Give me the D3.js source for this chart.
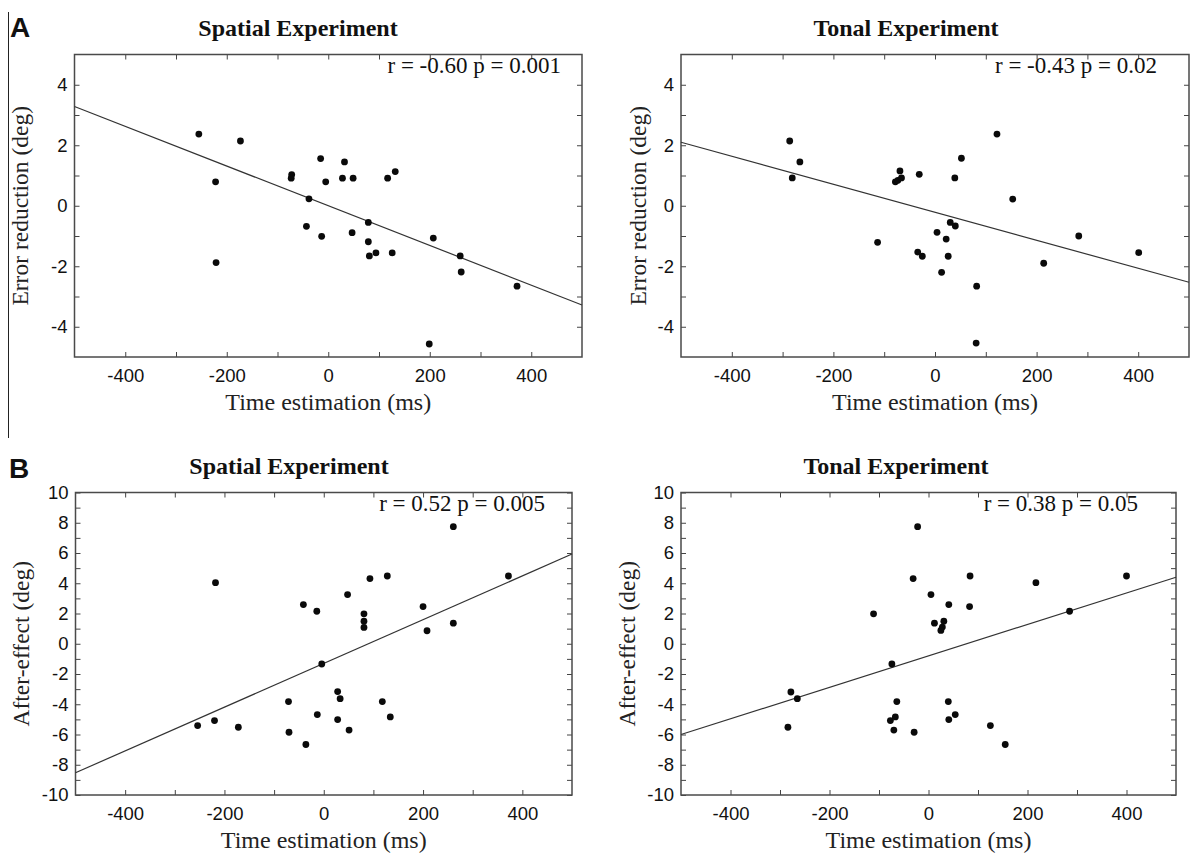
<!DOCTYPE html>
<html><head><meta charset="utf-8">
<script src="https://cdn.jsdelivr.net/npm/d3@7"></script>
<style>body{margin:0;background:#fff}svg{display:block}</style>
</head><body><svg id="c" width="1192" height="853"></svg>
<script>
// ---------- data ----------
const xDomain = [-500, 500];
const xLabelTicks = [-400, -200, 0, 200, 400];
const errDomain = [-5, 5];
const errLabelTicks = [-4, -2, 0, 2, 4];
const afterDomain = [-10, 10];
const afterLabelTicks = [-10, -8, -6, -4, -2, 0, 2, 4, 6, 8, 10];
const fitX = [-500, 500];

// A: Spatial experiment, error reduction
const spatialErrX = [-255, -173, -222, -221, -72, -73, -15, 32, -5, 28, 49, 117, 132, -38, -43, -13, 47, 79, 79, 81, 94, 126, 207, 260, 262, 372, 199];
const spatialErrY = [2.37, 2.14, 0.79, -1.88, 1.03, 0.91, 1.56, 1.45, 0.79, 0.91, 0.91, 0.91, 1.13, 0.23, -0.68, -1.01, -0.89, -0.55, -1.19, -1.66, -1.56, -1.56, -1.07, -1.66, -2.19, -2.66, -4.57];
const spatialErrFit = [3.28, -3.28];

// A: Tonal experiment, error reduction
const tonalErrX = [-286, -281, -266, -113, -78, -73, -69, -66, -31, -34, -25, 4, 13, 22, 26, 30, 40, 39, 52, 82, 81, 122, 153, 214, 283, 401];
const tonalErrY = [2.14, 0.92, 1.45, -1.21, 0.79, 0.84, 1.15, 0.92, 1.04, -1.53, -1.67, -0.88, -2.2, -1.10, -1.67, -0.55, -0.67, 0.92, 1.57, -2.66, -4.54, 2.37, 0.22, -1.90, -1.0, -1.55];
const tonalErrFit = [2.10, -2.53];

// B: Spatial experiment, after-effect
const spatialAftX = [-254, -220, -172, -218, -71, -70, -36, -41, -14, -13, -4, 28, 33, 28, 48, 51, 81, 81, 81, 93, 128, 118, 134, 200, 208, 261, 261, 372];
const spatialAftY = [-5.41, -5.08, -5.52, 4.04, -3.82, -5.85, -6.66, 2.59, 2.15, -4.68, -1.34, -3.16, -3.63, -5.01, 3.25, -5.71, 1.98, 1.49, 1.08, 4.31, 4.48, -3.82, -4.84, 2.46, 0.86, 7.74, 1.36, 4.48];
const spatialAftFit = [-8.53, 5.93];

// B: Tonal experiment, after-effect
const tonalAftX = [-284, -278, -265, -111, -74, -77, -67, -70, -64, -31, -29, -22, 5, 12, 31, 28, 25, 41, 40, 41, 54, 83, 84, 125, 155, 217, 285, 400];
const tonalAftY = [-5.52, -3.19, -3.63, 1.98, -1.34, -5.08, -4.84, -5.71, -3.82, 4.31, -5.85, 7.74, 3.25, 1.36, 1.49, 1.10, 0.88, 2.59, -3.82, -5.01, -4.68, 2.46, 4.48, -5.41, -6.66, 4.04, 2.15, 4.48];
const tonalAftFit = [-6.0, 4.4];

const titles = ["Spatial Experiment", "Tonal Experiment", "Spatial Experiment", "Tonal Experiment"];
const statTexts = ["r = -0.60 p = 0.001", "r = -0.43 p = 0.02", "r = 0.52 p = 0.005", "r = 0.38 p = 0.05"];
const xAxisLabel = "Time estimation (ms)";
const yAxisLabels = ["Error reduction (deg)", "After-effect (deg)"];
const panelLetters = ["A", "B"];

// ---------- layout ----------
const layout = [
  {box: [74.5, 54.5, 582, 357], titleX: 298, titleY: 36, ylabX: 20, statX: 561, statY: 73, xlabY: 410},
  {box: [681, 54.5, 1189, 357], titleX: 906, titleY: 36, ylabX: 638, statX: 1157, statY: 73, xlabY: 410},
  {box: [75.5, 492.5, 572, 795], titleX: 289, titleY: 474, ylabX: 21, statX: 545, statY: 511, xlabY: 848},
  {box: [681, 492.5, 1176, 795], titleX: 896, titleY: 474, ylabX: 627, statX: 1138, statY: 511, xlabY: 848}
];
const panelData = [
  {xs: spatialErrX, ys: spatialErrY, fit: spatialErrFit, yDomain: errDomain, yLabels: errLabelTicks, yLabel: yAxisLabels[0]},
  {xs: tonalErrX, ys: tonalErrY, fit: tonalErrFit, yDomain: errDomain, yLabels: errLabelTicks, yLabel: yAxisLabels[0]},
  {xs: spatialAftX, ys: spatialAftY, fit: spatialAftFit, yDomain: afterDomain, yLabels: afterLabelTicks, yLabel: yAxisLabels[1]},
  {xs: tonalAftX, ys: tonalAftY, fit: tonalAftFit, yDomain: afterDomain, yLabels: afterLabelTicks, yLabel: yAxisLabels[1]}
];

const SERIF = "'Liberation Serif','Times New Roman',Times,serif";
const SANS = "'Liberation Sans',Arial,Helvetica,sans-serif";
const svg = d3.select("#c");
svg.append("rect").attr("width", 1192).attr("height", 853).attr("fill", "#fff");

// separator line + panel letters
svg.append("line").attr("x1", 8.5).attr("x2", 8.5).attr("y1", 12).attr("y2", 438).attr("stroke", "#222").attr("stroke-width", 1);
svg.append("text").text(panelLetters[0]).attr("x", 10).attr("y", 37).attr("font-family", SANS).attr("font-weight", "bold").attr("font-size", 28).attr("fill", "#111");
svg.append("text").text(panelLetters[1]).attr("x", 9).attr("y", 478).attr("font-family", SANS).attr("font-weight", "bold").attr("font-size", 28).attr("fill", "#111");

function styleAxis(sel) {
  sel.select(".domain").remove();
  sel.selectAll(".tick line").attr("stroke", "#444").attr("stroke-width", 1);
  sel.selectAll(".tick text").attr("font-family", SANS).attr("font-size", 18.5).attr("fill", "#111");
}

panelData.forEach((p, i) => {
  const L = layout[i];
  const [x0, y0, x1, y1] = L.box;
  const x = d3.scaleLinear().domain(xDomain).range([x0, x1]);
  const y = d3.scaleLinear().domain(p.yDomain).range([y1, y0]);
  const g = svg.append("g");
  const xMinor = d3.range(xDomain[0] + 100, xDomain[1], 100);
  const yMinor = d3.range(p.yDomain[0], p.yDomain[1] + 0.5, 1).filter(v => v > p.yDomain[0] && v < p.yDomain[1]);
  const yAll = Array.from(new Set(yMinor.concat(p.yLabels))).sort((a, b) => a - b);

  g.append("g").attr("transform", `translate(0,${y1})`)
    .call(d3.axisBottom(x).tickValues(xMinor).tickSizeInner(-5).tickSizeOuter(0).tickPadding(12)
      .tickFormat(d => xLabelTicks.includes(d) ? String(d) : ""))
    .call(styleAxis);
  g.append("g").attr("transform", `translate(0,${y0})`)
    .call(d3.axisTop(x).tickValues(xMinor).tickSizeInner(-5).tickSizeOuter(0).tickFormat(""))
    .call(styleAxis);
  g.append("g").attr("transform", `translate(${x0},0)`)
    .call(d3.axisLeft(y).tickValues(yAll).tickSizeInner(-5).tickSizeOuter(0).tickPadding(7)
      .tickFormat(d => p.yLabels.includes(d) ? String(d) : ""))
    .call(styleAxis);
  g.append("g").attr("transform", `translate(${x1},0)`)
    .call(d3.axisRight(y).tickValues(yAll).tickSizeInner(-5).tickSizeOuter(0).tickFormat(""))
    .call(styleAxis);

  g.append("rect").attr("x", x0).attr("y", y0).attr("width", x1 - x0).attr("height", y1 - y0)
    .attr("fill", "none").attr("stroke", "#4a4a4a").attr("stroke-width", 1.5);

  const fitPts = fitX.map((v, k) => [v, p.fit[k]]);
  g.append("path").datum(fitPts)
    .attr("d", d3.line().x(d => x(d[0])).y(d => y(d[1])))
    .attr("fill", "none").attr("stroke", "#333").attr("stroke-width", 1.2);

  const pts = p.xs.map((v, k) => [v, p.ys[k]]);
  g.selectAll("circle").data(pts).join("circle")
    .attr("cx", d => x(d[0])).attr("cy", d => y(d[1])).attr("r", 3.4).attr("fill", "#0a0a0a");

  g.append("text").text(statTexts[i]).attr("x", L.statX).attr("y", L.statY)
    .attr("text-anchor", "end").attr("font-family", SERIF).attr("font-size", 23).attr("fill", "#111");

  g.append("text").text(titles[i]).attr("x", L.titleX).attr("y", L.titleY)
    .attr("text-anchor", "middle").attr("font-family", SERIF).attr("font-weight", "bold").attr("font-size", 24).attr("fill", "#111");

  g.append("text").text(xAxisLabel).attr("x", (x0 + x1) / 2).attr("y", L.xlabY)
    .attr("text-anchor", "middle").attr("font-family", SERIF).attr("font-size", 24).attr("fill", "#222");

  g.append("text").text(p.yLabel)
    .attr("transform", `translate(${L.ylabX},${(y0 + y1) / 2}) rotate(-90)`)
    .attr("text-anchor", "middle").attr("dy", "0.32em")
    .attr("font-family", SERIF).attr("font-size", 23.5).attr("fill", "#222");
});
</script>
</body></html>
